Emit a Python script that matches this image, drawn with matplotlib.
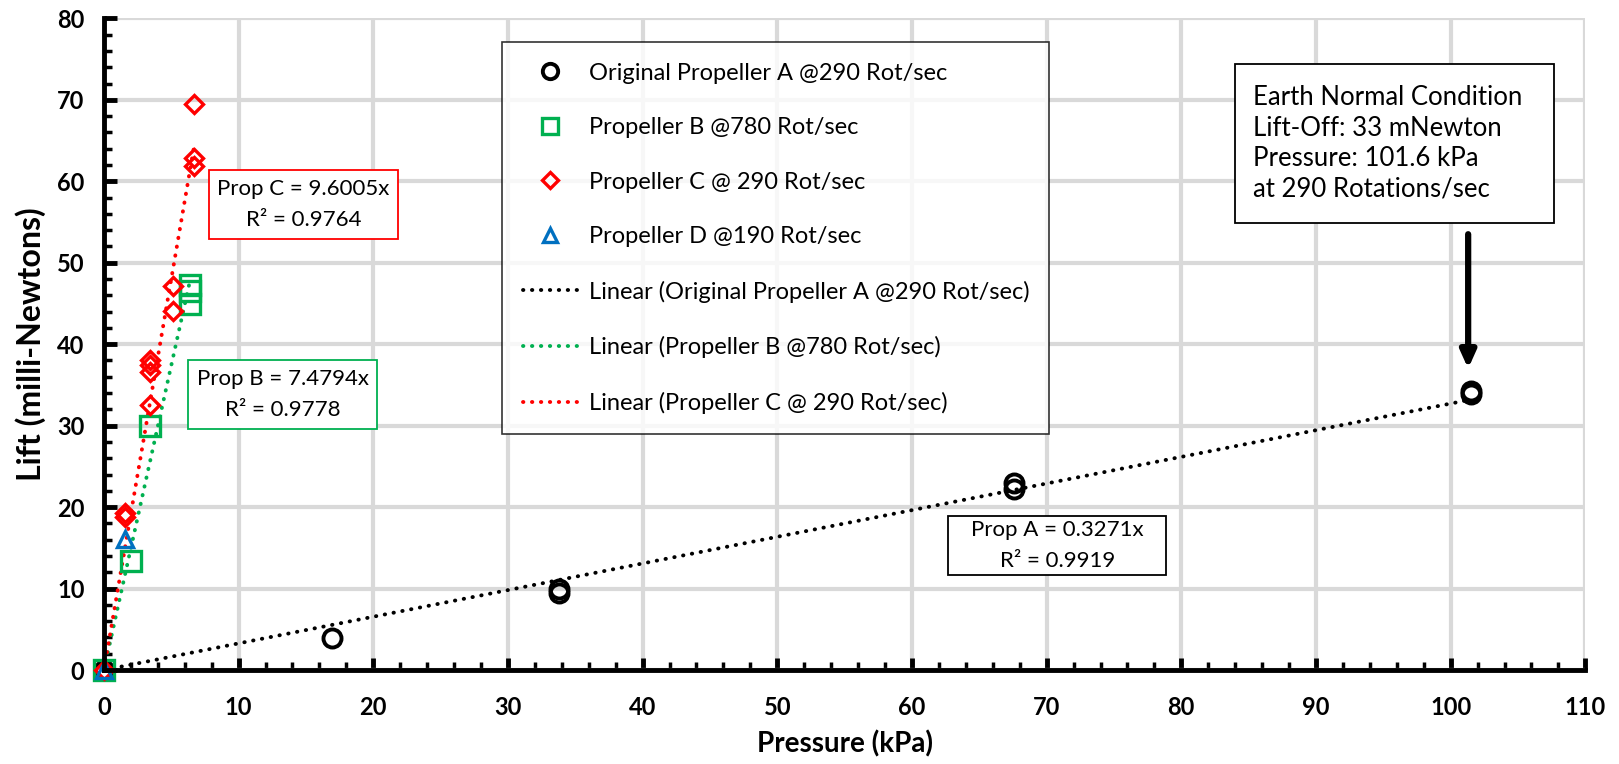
import matplotlib.pyplot as plt
import matplotlib.ticker as ticker
from matplotlib.patches import Rectangle
import numpy as np

plt.rcParams['font.family'] = ['Lato', 'DejaVu Sans']

# measured points (pressure kPa, lift mN)
a_x = [0, 16.9, 33.8, 33.8, 67.6, 67.6, 101.5, 101.5]
a_y = [0, 3.9, 9.9, 9.4, 23.0, 22.2, 34.2, 33.9]
b_x = [0, 2.0, 3.4, 6.4, 6.4, 6.4]
b_y = [0, 13.4, 29.9, 47.3, 46.5, 44.9]
c_x = [0, 1.6, 1.6, 3.4, 3.4, 3.4, 3.4, 5.1, 5.1, 6.7, 6.7, 6.7]
c_y = [0, 19.3, 18.8, 38.1, 37.4, 36.6, 32.5, 47.2, 44.1, 69.5, 62.9, 61.9]
d_x = [0, 1.6]
d_y = [0, 16.1]

# trendline slopes through origin
slope_a, r2_a = 0.3271, 0.9919
slope_b, r2_b = 7.4794, 0.9778
slope_c, r2_c = 9.6005, 0.9764

fig = plt.figure(figsize=(16.19, 7.64), dpi=100)
ax = fig.add_axes([0.0642, 0.123, 0.915, 0.853])

ax.plot(a_x, a_y, 'o', ms=13, mfc='none', mec='black', mew=2.8,
        label='Original Propeller A @290 Rot/sec', zorder=5, clip_on=False)
ax.plot(b_x, b_y, 's', ms=14, mfc='none', mec='#00b050', mew=2.4,
        label='Propeller B @780 Rot/sec', zorder=5, clip_on=False)
ax.plot(c_x, c_y, 'D', ms=9, mfc='none', mec='#ff0000', mew=2.4,
        label='Propeller C @ 290 Rot/sec', zorder=5, clip_on=False)
ax.plot(d_x, d_y, '^', ms=12, mfc='none', mec='#0070c0', mew=2.4,
        label='Propeller D @190 Rot/sec', zorder=5, clip_on=False)

dots = dict(lw=2.8, linestyle=(0, (0.1, 2.2)), dash_capstyle='round', zorder=4)
xa = np.array([0, max(a_x)])
ax.plot(xa, slope_a * xa, color='black',
        label='Linear (Original Propeller A @290 Rot/sec)', **dots)
xb = np.array([0, max(b_x)])
ax.plot(xb, slope_b * xb, color='#00b050',
        label='Linear (Propeller B @780 Rot/sec)', **dots)
xc = np.array([0, max(c_x)])
ax.plot(xc, slope_c * xc, color='#ff0000',
        label='Linear (Propeller C @ 290 Rot/sec)', **dots)

ax.set_xlim(0, 110)
ax.set_ylim(0, 80)
ax.xaxis.set_major_locator(ticker.MultipleLocator(10))
ax.xaxis.set_minor_locator(ticker.MultipleLocator(2))
ax.yaxis.set_major_locator(ticker.MultipleLocator(10))
ax.yaxis.set_minor_locator(ticker.MultipleLocator(2))
ax.grid(True, which='major', color='#d9d9d9', lw=3)
ax.set_axisbelow(True)
for s in ['top', 'right']:
    ax.spines[s].set_visible(False)
for s in ['left', 'bottom']:
    ax.spines[s].set_linewidth(3.5)
    ax.spines[s].set_zorder(6)
ax.tick_params(which='major', direction='in', length=9, width=3.5, labelsize=17)
ax.tick_params(which='minor', direction='in', length=6, width=2.5)
ax.tick_params(axis='x', which='major', pad=19)
ax.tick_params(axis='y', which='major', pad=14)
for lab in ax.get_xticklabels() + ax.get_yticklabels():
    lab.set_fontweight('bold')
ax.set_xlabel('Pressure (kPa)', fontsize=20, fontweight='bold', labelpad=8)
ax.set_ylabel('Lift (milli-Newtons)', fontsize=23, fontweight='bold', labelpad=8)

leg = ax.legend(loc='upper left', bbox_to_anchor=(0.269, 0.963), fontsize=17,
                frameon=True, fancybox=False, edgecolor='black',
                labelspacing=1.42, handlelength=2.3, borderpad=0.85,
                handletextpad=0.5, borderaxespad=0, markerscale=0.85)
leg.get_frame().set_linewidth(1.2)
leg.set_zorder(7)


def note_box(x0, x1, y0, y1, color, lines, size, spacing, left=None):
    ax.add_patch(Rectangle((x0, y0), x1 - x0, y1 - y0, facecolor='white',
                           edgecolor=color, lw=1.3, zorder=7))
    if left is None:
        ax.text((x0 + x1) / 2, (y0 + y1) / 2, lines, ha='center', va='center',
                fontsize=size, linespacing=spacing, zorder=8)
    else:
        ax.text(left, (y0 + y1) / 2, lines, ha='left', va='center',
                fontsize=size, linespacing=spacing, zorder=8)


note_box(7.8, 21.85, 52.9, 61.4, '#ff0000',
         f'Prop C = {slope_c}x\nR² = {r2_c}', 16, 1.65)
note_box(6.25, 20.3, 29.6, 38.0, '#00b050',
         f'Prop B = {slope_b}x\nR² = {r2_b}', 16, 1.65)
note_box(62.7, 78.9, 11.7, 18.9, 'black',
         f'Prop A = {slope_a}x\nR² = {r2_a}', 16, 1.65)
note_box(84.0, 107.7, 54.9, 74.4, 'black',
         'Earth Normal Condition\nLift-Off: 33 mNewton\n'
         'Pressure: 101.6 kPa\nat 290 Rotations/sec', 18.5, 1.27, left=85.3)

ax.annotate('', xy=(101.3, 37.0), xytext=(101.3, 53.5),
            arrowprops=dict(arrowstyle='-|>,head_length=1.0,head_width=0.45',
                            color='black', lw=4.5, shrinkA=0, shrinkB=0),
            zorder=8)

fig.savefig('out.png', dpi=100)
